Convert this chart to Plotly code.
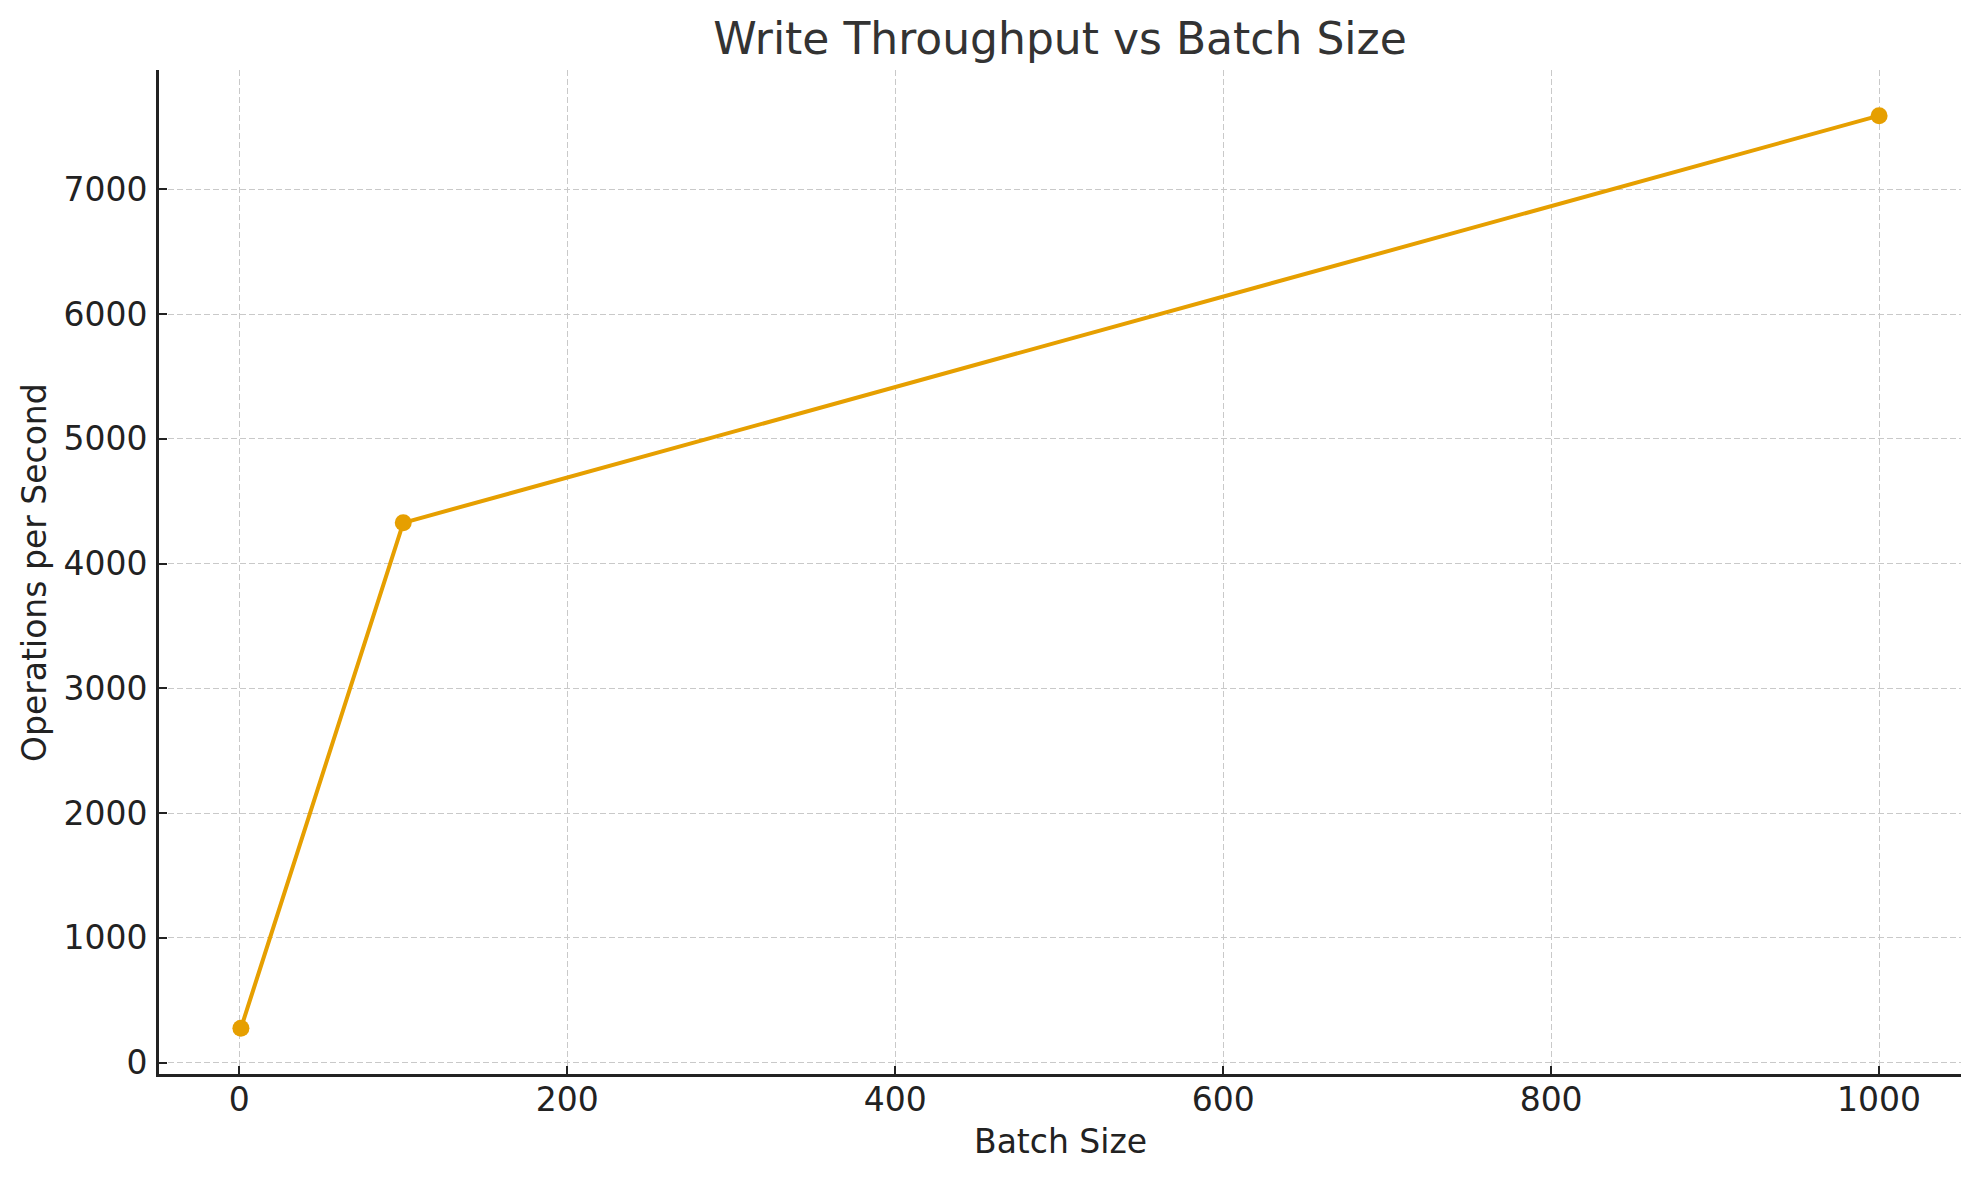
import plotly.graph_objects as go

# values
batch_size = [1, 100, 1000]
ops_per_sec = [275, 4327, 7590]

x_ticks = [0, 200, 400, 600, 800, 1000]
y_ticks = [0, 1000, 2000, 3000, 4000, 5000, 6000, 7000]

title_text = "Write Throughput vs Batch Size"
x_label = "Batch Size"
y_label = "Operations per Second"

line_color = "#E69F00"
font_family = "DejaVu Sans"


def padded(vals, frac=0.05):
    lo, hi = min(vals), max(vals)
    pad = (hi - lo) * frac
    return [lo - pad, hi + pad]


fig = go.Figure()
fig.add_trace(go.Scatter(
    x=batch_size,
    y=ops_per_sec,
    mode="lines+markers",
    line=dict(color=line_color, width=4),
    marker=dict(color=line_color, size=17),
    showlegend=False,
))

axis_style = dict(
    showline=True, linewidth=2.6, linecolor="#222222",
    ticks="inside", ticklen=8, tickwidth=2.4, tickcolor="#222222",
    showgrid=True, gridcolor="#c9c9c9", gridwidth=1.4, griddash="6px,3px",
    zeroline=False, mirror=False,
    tickfont=dict(family=font_family, size=33, color="#222222"),
)

fig.update_xaxes(range=padded(batch_size), tickvals=x_ticks, ticklabelstandoff=-5, **axis_style)
fig.update_yaxes(range=padded(ops_per_sec), tickvals=y_ticks, ticklabelstandoff=2, **axis_style)

fig.update_layout(
    width=1979, height=1180,
    margin=dict(l=159, r=18, t=70, b=106),
    paper_bgcolor="white", plot_bgcolor="white",
    font=dict(family=font_family, color="#222222"),
    title=dict(
        text=title_text, x=0.5, xref="paper", xanchor="center",
        y=1 - 39 / 1180, yref="container", yanchor="middle",
        font=dict(family=font_family, size=44, color="#333333"),
    ),
    annotations=[
        dict(text=x_label, xref="paper", yref="paper", x=0.5, y=-0.067,
             xanchor="center", yanchor="middle", showarrow=False,
             font=dict(family=font_family, size=33, color="#222222")),
        dict(text=y_label, xref="paper", yref="paper", x=-0.0694, y=0.5,
             xanchor="center", yanchor="middle", textangle=-90, showarrow=False,
             font=dict(family=font_family, size=33, color="#222222")),
    ],
)

# drop the page's default body margin so the figure sits at the top-left corner
fig.write_html("out.html", config={"displayModeBar": False},
               post_script="document.body.style.margin='0px';")
